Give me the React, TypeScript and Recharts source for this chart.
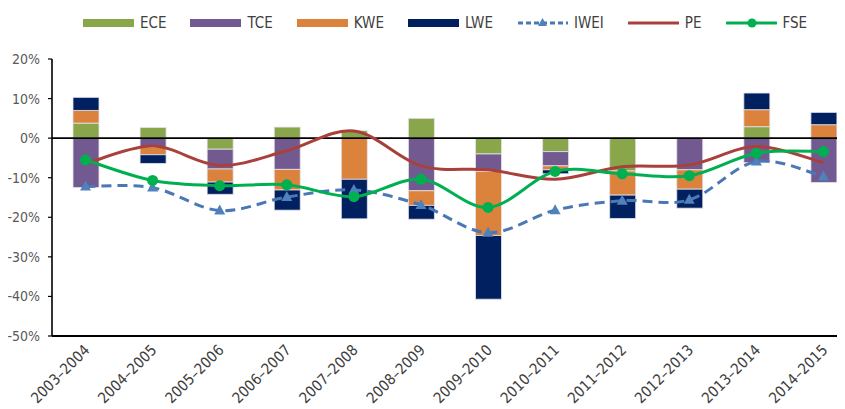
import React from 'react';
import { ComposedChart, Bar, Line, XAxis, YAxis, ReferenceLine } from 'recharts';

const categories = [
  '2003–2004', '2004–2005', '2005–2006', '2006–2007', '2007–2008', '2008–2009',
  '2009–2010', '2010–2011', '2011–2012', '2012–2013', '2013–2014', '2014–2015',
];
const ece = [3.8, 2.7, -2.8, 2.8, 1.9, 5.0, -4.0, -3.4, -8.3, 0, 2.9, 0];
const tce = [-12.5, -2.3, -5.0, -7.9, 0, -13.3, -4.4, -3.6, 0, -8.0, -6.2, -11.2];
const kwe = [3.2, -1.9, -3.3, -5.2, -10.4, -3.7, -16.2, -1.0, -6.1, -4.9, 4.3, 3.4];
const lwe = [3.3, -2.2, -3.1, -5.1, -10.0, -3.5, -16.1, -1.0, -5.9, -4.8, 4.2, 3.1];
const iwei = [-12.2, -12.5, -18.3, -14.9, -13.1, -16.9, -23.9, -18.2, -15.8, -15.6, -5.9, -9.7];
const pe = [-6.5, -2.0, -6.9, -3.2, 1.8, -7.0, -8.0, -10.4, -7.2, -6.8, -2.1, -6.2];
const fse = [-5.5, -10.7, -12.0, -11.8, -14.8, -10.4, -17.5, -8.4, -9.0, -9.5, -3.8, -3.4];
const yTicks = [20, 10, 0, -10, -20, -30, -40, -50];

const data = categories.map((name, i) => ({
  name,
  ECE: ece[i],
  TCE: tce[i],
  KWE: kwe[i],
  LWE: lwe[i],
  IWEI: iwei[i],
  PE: pe[i],
  FSE: fse[i],
}));

const FONT = "'Liberation Sans Narrow', 'DejaVu Sans Condensed', 'Arial Narrow', sans-serif";

const C = {
  ECE: '#8AA64B',
  TCE: '#725A91',
  KWE: '#DB823C',
  LWE: '#002060',
  IWEI: '#4A78B5',
  IWEIm: '#4F81BD',
  PE: '#A9403B',
  FSE: '#00B050',
};

// Excel-like smoothed line (Catmull-Rom style bezier)
function smoothCurve(context: any) {
  let pts: number[][] = [];
  return {
    areaStart() {},
    areaEnd() {},
    lineStart() {
      pts = [];
    },
    point(x: number, y: number) {
      pts.push([+x, +y]);
    },
    lineEnd() {
      if (!pts.length) return;
      context.moveTo(pts[0][0], pts[0][1]);
      for (let i = 0; i < pts.length - 1; i++) {
        const p0 = pts[i - 1] || pts[i];
        const p1 = pts[i];
        const p2 = pts[i + 1];
        const p3 = pts[i + 2] || p2;
        const c1x = p1[0] + (p2[0] - p0[0]) / 6;
        const c1y = p1[1] + (p2[1] - p0[1]) / 6;
        const c2x = p2[0] - (p3[0] - p1[0]) / 6;
        const c2y = p2[1] - (p3[1] - p1[1]) / 6;
        context.bezierCurveTo(c1x, c1y, c2x, c2y, p2[0], p2[1]);
      }
    },
  };
}

const Triangle = (props: any) => {
  const { cx, cy } = props;
  if (cx == null || cy == null) return <g />;
  return (
    <path
      d={`M${cx},${cy - 6} L${cx + 5.5},${cy + 4} L${cx - 5.5},${cy + 4} Z`}
      fill={C.IWEIm}
    />
  );
};

const XTick = (props: any) => {
  const { x, y, payload } = props;
  return (
    <g transform={`translate(${x + 5},${y + 15})`}>
      <text
        transform="rotate(-45)"
        textAnchor="end"
        fill="#404040"
        fontSize={15}
        fontFamily={FONT}
      >
        {payload.value}
      </text>
    </g>
  );
};

const legendItems = [
  { key: 'ECE', type: 'rect', color: C.ECE },
  { key: 'TCE', type: 'rect', color: C.TCE },
  { key: 'KWE', type: 'rect', color: C.KWE },
  { key: 'LWE', type: 'rect', color: C.LWE },
  { key: 'IWEI', type: 'iwei', color: C.IWEI },
  { key: 'PE', type: 'line', color: C.PE },
  { key: 'FSE', type: 'fse', color: C.FSE },
];

const LegendIcon = ({ type, color }: { type: string; color: string }) => {
  return (
    <svg width={51} height={12} style={{ display: 'block' }}>
      {type === 'rect' && <rect x={0} y={2} width={51} height={8} fill={color} />}
      {type === 'line' && <line x1={0} y1={6} x2={51} y2={6} stroke={color} strokeWidth={3} strokeLinecap="round" />}
      {type === 'iwei' && (
        <g>
          <line x1={1} y1={6} x2={51} y2={6} stroke={color} strokeWidth={3} strokeDasharray="5 3" />
          <path d="M25.5,1 L30,9 L21,9 Z" fill={C.IWEIm} />
        </g>
      )}
      {type === 'fse' && (
        <g>
          <line x1={1} y1={6} x2={50} y2={6} stroke={color} strokeWidth={3} strokeLinecap="round" />
          <circle cx={26} cy={6} r={4.5} fill={color} />
        </g>
      )}
    </svg>
  );
};

const Legend = () => (
  <div
    style={{
      position: 'absolute',
      top: 7,
      left: 75,
      display: 'flex',
      alignItems: 'center',
      fontFamily: FONT,
      fontSize: 15,
      color: '#404040',
      whiteSpace: 'nowrap',
    }}
  >
    {legendItems.map((it) => (
      <div key={it.key} style={{ display: 'flex', alignItems: 'center', marginRight: 24 }}>
        <LegendIcon type={it.type} color={it.color} />
        <span style={{ marginLeft: 6, lineHeight: '16px' }}>{it.key}</span>
      </div>
    ))}
  </div>
);

export default function App() {
  return (
    <div style={{ position: 'relative', width: 837, height: 401, overflow: 'hidden', background: '#fff' }}>
      <ComposedChart
        width={856}
        height={401}
        data={data}
        stackOffset="sign"
        margin={{ top: 51, right: 7, bottom: 0, left: 0 }}
        barSize={26}
      >
        <XAxis
          dataKey="name"
          height={73}
          axisLine={{ stroke: '#000', strokeWidth: 1.8 }}
          tickLine={false}
          tickSize={0}
          tickMargin={0}
          interval={0}
          tick={<XTick />}
        />
        <YAxis
          width={44}
          domain={[-50, 20]}
          ticks={yTicks}
          interval={0}
          axisLine={{ stroke: '#000', strokeWidth: 1.6 }}
          tickLine={{ stroke: '#000', strokeWidth: 1.2 }}
          tickSize={4}
          tickMargin={8}
          tickFormatter={(v: number) => `${v}%`}
          tick={{ fill: '#595959', fontSize: 14, fontFamily: FONT }}
        />
        <Bar dataKey="ECE" stackId="a" fill={C.ECE} stroke="#E4E4EC" strokeWidth={0.8} isAnimationActive={false} />
        <Bar dataKey="TCE" stackId="a" fill={C.TCE} stroke="#E4E4EC" strokeWidth={0.8} isAnimationActive={false} />
        <Bar dataKey="KWE" stackId="a" fill={C.KWE} stroke="#E4E4EC" strokeWidth={0.8} isAnimationActive={false} />
        <Bar dataKey="LWE" stackId="a" fill={C.LWE} stroke="#E4E4EC" strokeWidth={0.8} isAnimationActive={false} />
        <ReferenceLine y={0} stroke="#000" strokeWidth={1.6} />
        <Line
          dataKey="IWEI"
          type={smoothCurve as any}
          stroke={C.IWEI}
          strokeWidth={3}
          strokeDasharray="10 6"
          dot={<Triangle />}
          activeDot={false}
          isAnimationActive={false}
        />
        <Line
          dataKey="PE"
          type={smoothCurve as any}
          stroke={C.PE}
          strokeWidth={3}
          dot={false}
          activeDot={false}
          isAnimationActive={false}
        />
        <Line
          dataKey="FSE"
          type={smoothCurve as any}
          stroke={C.FSE}
          strokeWidth={3}
          dot={{ r: 5.5, fill: C.FSE, stroke: C.FSE, strokeWidth: 0 }}
          activeDot={false}
          isAnimationActive={false}
        />
      </ComposedChart>
      <Legend />
    </div>
  );
}
